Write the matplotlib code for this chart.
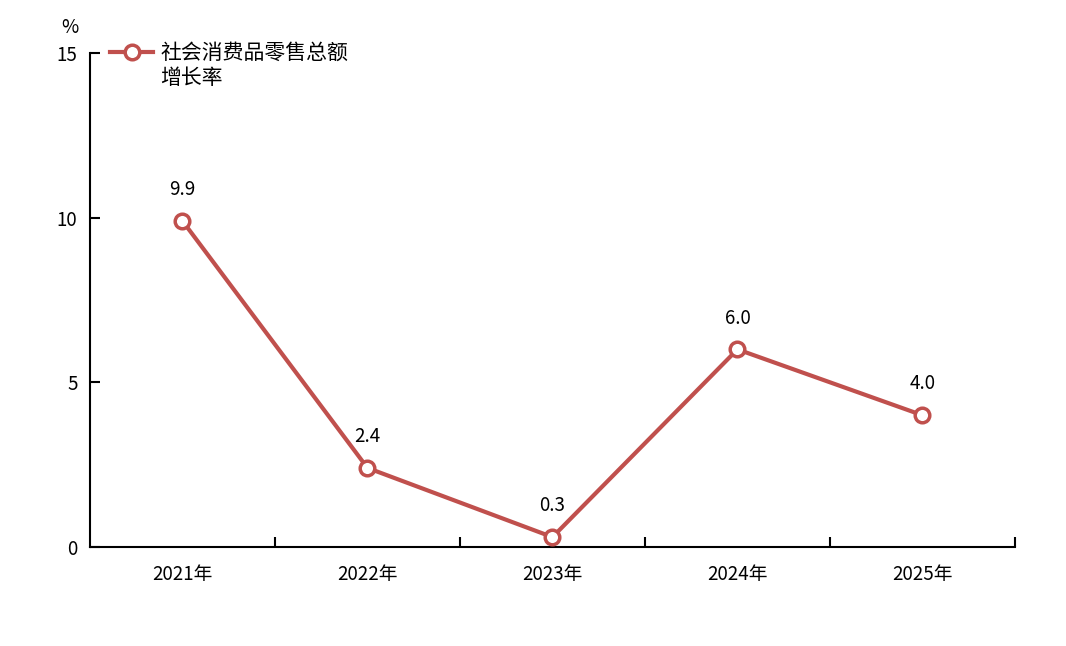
import matplotlib.pyplot as plt

plt.rcParams['font.family'] = ['Noto Sans CJK SC', 'DejaVu Sans']

years = ["2021年", "2022年", "2023年", "2024年", "2025年"]
growth = [9.9, 2.4, 0.3, 6.0, 4.0]
labels = ["9.9", "2.4", "0.3", "6.0", "4.0"]
red = "#C0504D"

fig = plt.figure(figsize=(10.66, 6.46), dpi=100)
ax = fig.add_axes([0.0844, 0.1533, 0.8677, 0.7647])

x = list(range(len(years)))
ax.plot(x, growth, color=red, linewidth=3, marker="o", markersize=10.5,
        markerfacecolor="white", markeredgecolor=red, markeredgewidth=2.5,
        label="社会消费品零售总额\n增长率", zorder=3)
for xi, v, t in zip(x, growth, labels):
    ax.annotate(t, (xi, v), xytext=(0, 15), textcoords="offset points",
                ha="center", va="bottom", fontsize=13.5)

ax.set_xlim(-0.5, 4.5)
ax.set_ylim(0, 15)
ax.set_yticks([0, 5, 10, 15])
ax.set_xticks(x)
ax.set_xticklabels(years)
ax.set_xticks([0.5, 1.5, 2.5, 3.5, 4.5], minor=True)
ax.tick_params(axis="x", which="major", length=0, pad=12, labelsize=13.5)
ax.tick_params(axis="x", which="minor", direction="in", length=7, width=1.5)
ax.tick_params(axis="y", direction="in", length=7, width=1.5, pad=9, labelsize=13.5)

for s in ["top", "right"]:
    ax.spines[s].set_visible(False)
for s in ["left", "bottom"]:
    ax.spines[s].set_linewidth(1.5)

ax.text(-0.0216, 1.051, "%", transform=ax.transAxes, fontsize=13.5, ha="center", va="center")

leg = ax.legend(loc="upper left", bbox_to_anchor=(0.0216, 1.023), frameon=False, fontsize=15,
                handlelength=2.07, handletextpad=0.34, borderaxespad=0, borderpad=0,
                labelspacing=0.2)
for h in leg.legend_handles:
    h.set_ydata([y + 10.5 for y in h.get_ydata()])

fig.savefig("out.png", dpi=100)
